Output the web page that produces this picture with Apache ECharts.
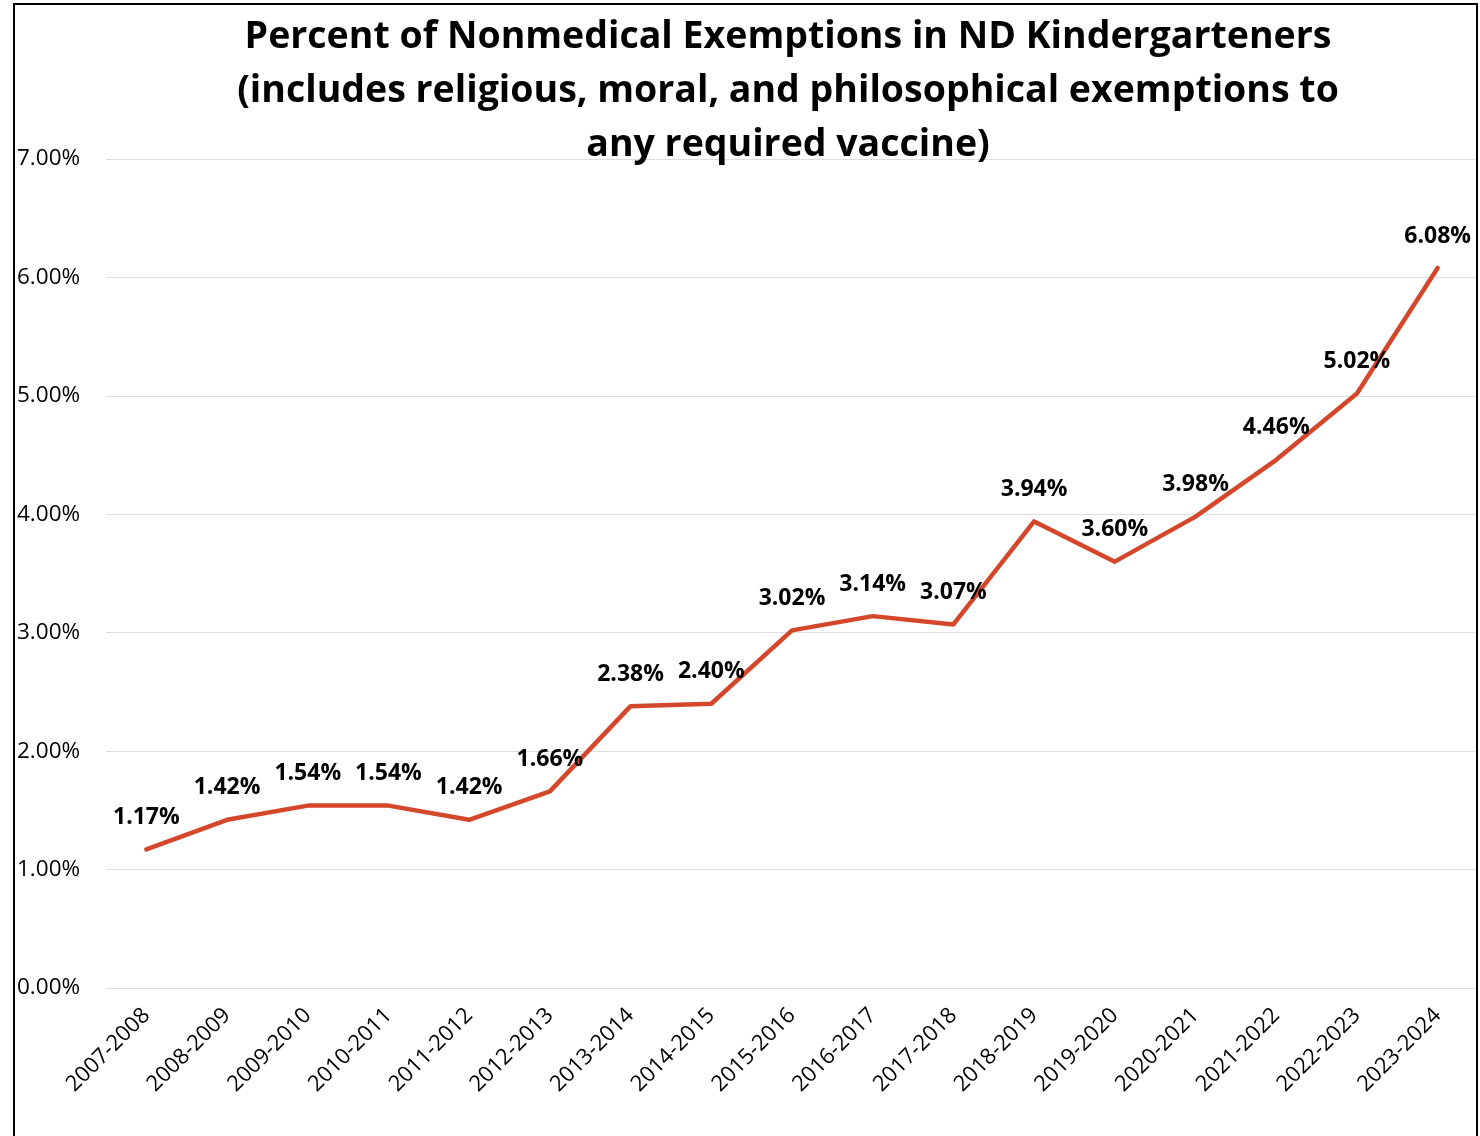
<!DOCTYPE html>
<html>
<head>
<meta charset="utf-8">
<script src="https://cdn.jsdelivr.net/npm/echarts@6/dist/echarts.min.js"></script>
<style>
  html, body { margin: 0; padding: 0; background: #fff; }
  #main { width: 1480px; height: 1136px; }
</style>
</head>
<body>
<div id="main"></div>
<script>
var years = ['2007-2008', '2008-2009', '2009-2010', '2010-2011', '2011-2012', '2012-2013',
    '2013-2014', '2014-2015', '2015-2016', '2016-2017', '2017-2018', '2018-2019',
    '2019-2020', '2020-2021', '2021-2022', '2022-2023', '2023-2024'];
var exemptPct = [1.17, 1.42, 1.54, 1.54, 1.42, 1.66, 2.38, 2.40, 3.02, 3.14, 3.07, 3.94,
    3.60, 3.98, 4.46, 5.02, 6.08];
var yTicks = [0, 1, 2, 3, 4, 5, 6, 7];

var chartDom = document.getElementById('main');
var myChart = echarts.init(chartDom);
var option;

var font = "'Open Sans', 'Noto Sans', sans-serif";

option = {
    backgroundColor: '#fff',
    textStyle: { fontFamily: font },
    title: {
        text: 'Percent of Nonmedical Exemptions in ND Kindergarteners\n(includes religious, moral, and philosophical exemptions to\nany required vaccine)',
        left: 788,
        top: 10,
        textAlign: 'center',
        padding: 0,
        textStyle: {
            fontFamily: font,
            fontSize: 37.5,
            fontWeight: 'bold',
            lineHeight: 54,
            color: '#000'
        }
    },
    graphic: [{
        type: 'rect',
        shape: { x: 14, y: 4, width: 1463, height: 1200 },
        style: { fill: 'none', stroke: '#000', lineWidth: 2 },
        z: 100
    }],
    grid: { left: 106, right: 2, top: 159, bottom: 148 },
    xAxis: {
        type: 'category',
        data: years,
        axisLine: { show: false },
        axisTick: { show: false },
        axisLabel: {
            rotate: 45,
            margin: 24,
            fontSize: 22,
            color: '#000',
            interval: 0
        }
    },
    yAxis: {
        type: 'value',
        min: yTicks[0],
        max: yTicks[yTicks.length - 1],
        interval: 1,
        axisLine: { show: false },
        axisTick: { show: false },
        splitLine: { lineStyle: { color: '#dedede', width: 1 } },
        axisLabel: {
            align: 'left',
            margin: 89,
            fontSize: 22.5,
            color: '#000',
            formatter: function (v) { return v.toFixed(2) + '%'; }
        }
    },
    series: [
        {
            type: 'line',
            data: exemptPct,
            symbol: 'circle',
            symbolSize: 1,
            itemStyle: { color: '#d5472a' },
            lineStyle: { color: '#d5472a', width: 4.5, cap: 'round', join: 'round' },
            label: {
                show: true,
                position: 'top',
                distance: 20,
                fontSize: 23,
                fontWeight: 'bold',
                color: '#000',
                formatter: function (p) { return p.value.toFixed(2) + '%'; }
            },
            labelLayout: { hideOverlap: false }
        }
    ]
};

option && myChart.setOption(option);
</script>
</body>
</html>
